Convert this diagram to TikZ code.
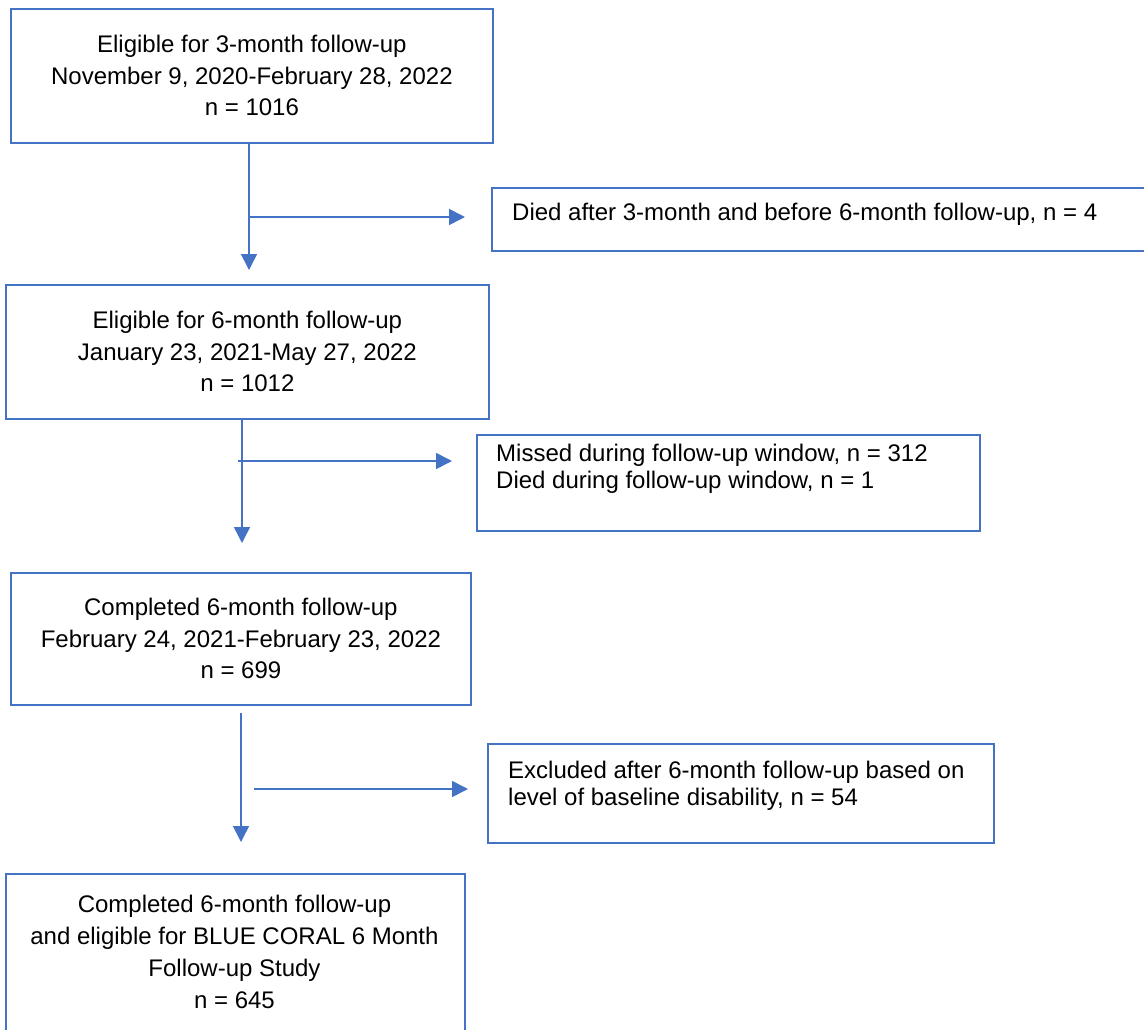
\documentclass[tikz,border=0pt]{standalone}
\usepackage{fontspec}
\setmainfont{Liberation Sans}
\usetikzlibrary{arrows.meta,calc}
\definecolor{ob}{HTML}{4472C4}
\begin{document}
\begin{tikzpicture}[x=1pt,y=-1pt,
  box/.style={draw=ob, line width=1.8pt, anchor=north west, inner sep=0pt, align=center,
    font=\fontsize{24}{31.5}\selectfont},
  sidetext/.style={anchor=west, inner sep=0pt, align=left, font=\fontsize{24}{27.5}\selectfont},
  ctext/.style={inner sep=0pt, align=center, font=\fontsize{24}{32}\selectfont},
  arr/.style={draw=ob, line width=1.6pt, -{Triangle[length=16pt,width=16pt]}}]
\clip (0,0) rectangle (1144,1029);
\fill[white] (0,0) rectangle (1144,1029);
% boxes
\node[box, minimum width=482pt, minimum height=134pt] (b1) at (10,8)
  {Eligible for 3-month follow-up\\November 9, 2020-February 28, 2022\\n = 1016};
\node[box, minimum width=700pt, minimum height=63pt] (b2) at (491,187) {};
\node[sidetext] (t2) at (512,214) {Died after 3-month and before 6-month follow-up, n = 4};
\node[box, minimum width=483pt, minimum height=134pt] (b3) at (5,284)
  {Eligible for 6-month follow-up\\January 23, 2021-May 27, 2022\\n = 1012};
\node[box, minimum width=503pt, minimum height=96pt] (b4) at (476,434) {};
\node[sidetext] (t4) at (496,469) {Missed during follow-up window, n = 312\\Died during follow-up window, n = 1};
\node[box, minimum width=460pt, minimum height=132pt] (b5) at (10,572)
  {Completed 6-month follow-up\\February 24, 2021-February 23, 2022\\n = 699};
\node[box, minimum width=506pt, minimum height=99pt] (b6) at (487,743) {};
\node[sidetext] (t6) at (508,786) {Excluded after 6-month follow-up based on\\level of baseline disability, n = 54};
\node[box, minimum width=459pt, minimum height=200pt] (b7) at (5,873) {};
\node[ctext] (t7) at (234.5,952) {Completed 6-month follow-up\\and eligible for BLUE CORAL 6 Month\\Follow-up Study\\n = 645};
% connectors
\coordinate (j1) at (249,217);
\draw[arr, shorten >=14pt] (b1.south -| j1) -- (b3.north -| j1);
\draw[arr, shorten >=26pt] (j1) -- (b2.west |- j1);
\coordinate (j2v) at (242,461);
\coordinate (j2) at (238,461);
\draw[arr, shorten >=29pt] (b3.south -| j2v) -- (b5.north -| j2v);
\draw[arr, shorten >=24pt] (j2) -- (b4.west |- j2);
\coordinate (j3) at (241,713);
\coordinate (j3h) at (254,789);
\draw[arr, shorten >=31pt] (j3) -- (b7.north -| j3);
\draw[arr, shorten >=19pt] (j3h) -- (b6.west |- j3h);
\end{tikzpicture}
\end{document}
